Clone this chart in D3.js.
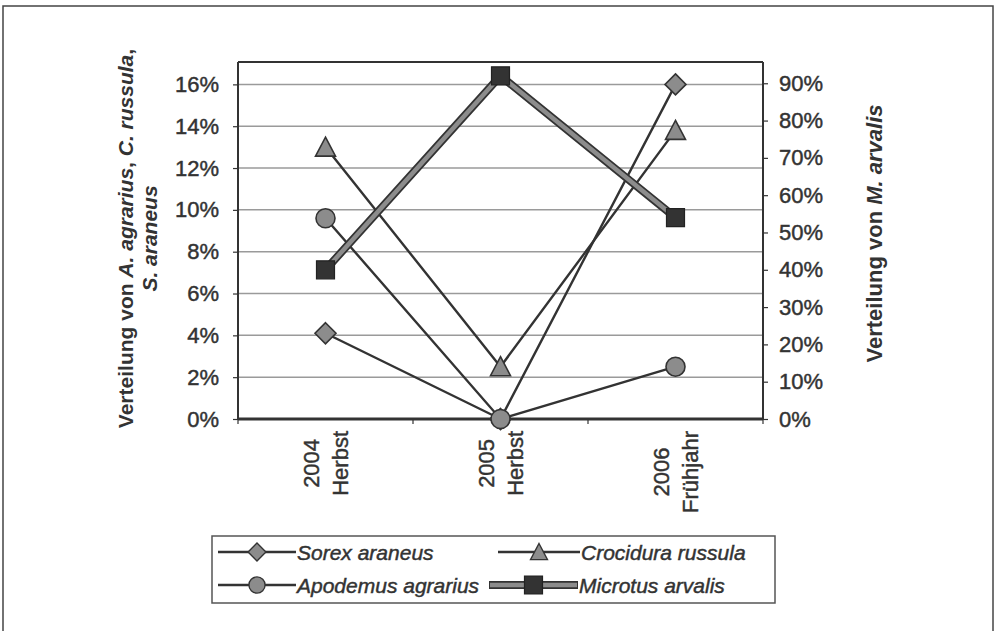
<!DOCTYPE html>
<html>
<head>
<meta charset="utf-8">
<script src="https://cdn.jsdelivr.net/npm/d3@7"></script>
<style>
  html, body { margin: 0; padding: 0; background: #fff; }
  svg { display: block; font-family: "Liberation Sans", Arial, sans-serif; }
  .heavy { stroke: #333; stroke-width: 0.45px; paint-order: stroke; }
</style>
</head>
<body>
<svg id="chart" width="996" height="631"></svg>
<script>
// Categories (two-line labels) and the four series
const categories = [["2004", "Herbst"], ["2005", "Herbst"], ["2006", "Frühjahr"]];
const sorexAraneus = [0.041, 0.0, 0.16];
const crociduraRussula = [0.13, 0.025, 0.138];
const apodemusAgrarius = [0.096, 0.0, 0.025];
const microtusArvalis = [0.40, 0.92, 0.54];   // secondary axis

const leftTicks = [0, 0.02, 0.04, 0.06, 0.08, 0.10, 0.12, 0.14, 0.16];
const rightTicks = [0, 0.1, 0.2, 0.3, 0.4, 0.5, 0.6, 0.7, 0.8, 0.9];
const leftMax = 0.1707;
const rightMax = 0.957;

const leftTitle = [["Verteilung von ", false], ["A. agrarius", true], [", ", false], ["C. russula", true], [",", false]];
const leftTitle2 = [["S. araneus", true]];
const rightTitle = [["Verteilung von ", false], ["M. arvalis", true]];

// Layout
const plot = { left: 238, right: 763, top: 62, bottom: 419 };
const ink = "#333";
const markerFill = "#8c8c8c";
const fontSize = 22;

const svg = d3.select("#chart");

// Outer frame
svg.append("rect")
  .attr("x", 3).attr("y", 6).attr("width", 990).attr("height", 640)
  .attr("fill", "none").attr("stroke", "#444").attr("stroke-width", 1.5);

const keys = categories.map(c => c.join(" "));
const x = d3.scaleBand().domain(keys).range([plot.left, plot.right]);
const yL = d3.scaleLinear().domain([0, leftMax]).range([plot.bottom, plot.top]);
const yR = d3.scaleLinear().domain([0, rightMax]).range([plot.bottom, plot.top]);
const cx = i => x(keys[i]) + x.bandwidth() / 2;

// Gridlines
svg.append("g").selectAll("line").data(leftTicks.filter(d => d > 0)).join("line")
  .attr("x1", plot.left).attr("x2", plot.right)
  .attr("y1", d => yL(d)).attr("y2", d => yL(d))
  .attr("stroke", "#9a9a9a").attr("stroke-width", 1.5);

// Plot frame top
svg.append("line")
  .attr("x1", plot.left).attr("x2", plot.right)
  .attr("y1", plot.top).attr("y2", plot.top)
  .attr("stroke", ink).attr("stroke-width", 2);

// Left axis
const gL = svg.append("g").attr("transform", `translate(${plot.left},0)`)
  .call(d3.axisLeft(yL).tickValues(leftTicks).tickFormat(d3.format(".0%")).tickSize(5).tickPadding(14));
// Right axis
const gR = svg.append("g").attr("transform", `translate(${plot.right},0)`)
  .call(d3.axisRight(yR).tickValues(rightTicks).tickFormat(d3.format(".0%")).tickSize(5).tickPadding(11));
[gL, gR].forEach(g => {
  g.select(".domain").attr("stroke", ink).attr("stroke-width", 2)
    .attr("d", `M0,${plot.top}V${plot.bottom}`);
  g.selectAll(".tick line").attr("stroke", ink).attr("stroke-width", 1.2);
  g.selectAll(".tick text").attr("fill", ink).attr("font-size", fontSize)
    .attr("class", "heavy")
    .attr("font-family", "'Liberation Sans', Arial, sans-serif");
});

// Category axis
const boundaries = [plot.left, ...keys.map(k => x(k) + x.bandwidth())];
svg.append("g").selectAll("line").data(boundaries).join("line")
  .attr("x1", d => d).attr("x2", d => d)
  .attr("y1", plot.bottom).attr("y2", plot.bottom + 5)
  .attr("stroke", ink).attr("stroke-width", 1.2);
svg.append("line")
  .attr("x1", plot.left).attr("x2", plot.right)
  .attr("y1", plot.bottom).attr("y2", plot.bottom)
  .attr("stroke", ink).attr("stroke-width", 3);

// Rotated two-line category labels, block anchored near the axis
categories.forEach((lines, i) => {
  const g = svg.append("g");
  const texts = lines.map(t => g.append("text")
    .attr("font-size", fontSize).attr("fill", ink).attr("class", "heavy")
    .attr("text-anchor", "middle")
    .text(t));
  const maxW = d3.max(texts, t => t.node().getComputedTextLength());
  const yc = plot.bottom + 12 + maxW / 2;
  texts.forEach((t, j) => {
    const lx = cx(i) + (j - (lines.length - 1) / 2) * 29 + 7.5;
    t.attr("transform", `translate(${lx},${yc}) rotate(-90)`);
  });
});

// Marker shapes
const markers = {
  diamond: "M0,-10.5L10.5,0L0,10.5L-10.5,0Z",
  triangle: "M0,-10L10,9L-10,9Z",
  circle: d3.symbol(d3.symbolCircle, Math.PI * 9.5 * 9.5)(),
  square: "M-9,-9H9V9H-9Z"
};

const thinSeries = [
  { name: "Sorex araneus", values: sorexAraneus, marker: "diamond" },
  { name: "Crocidura russula", values: crociduraRussula, marker: "triangle" },
  { name: "Apodemus agrarius", values: apodemusAgrarius, marker: "circle" }
];

const lineL = d3.line().x((d, i) => cx(i)).y(d => yL(d));
const lineR = d3.line().x((d, i) => cx(i)).y(d => yR(d));

thinSeries.forEach(s => {
  svg.append("path").attr("d", lineL(s.values))
    .attr("fill", "none").attr("stroke", ink).attr("stroke-width", 2.4);
});
thinSeries.forEach(s => {
  svg.append("g").selectAll("path").data(s.values).join("path")
    .attr("d", markers[s.marker])
    .attr("transform", (d, i) => `translate(${cx(i)},${yL(d)})`)
    .attr("fill", markerFill).attr("stroke", ink).attr("stroke-width", 1.6);
});

// Microtus arvalis: thick outlined line on the secondary axis
svg.append("path").attr("d", lineR(microtusArvalis))
  .attr("fill", "none").attr("stroke", ink).attr("stroke-width", 8).attr("stroke-linejoin", "miter");
svg.append("path").attr("d", lineR(microtusArvalis))
  .attr("fill", "none").attr("stroke", markerFill).attr("stroke-width", 4.5).attr("stroke-linejoin", "miter");
svg.append("g").selectAll("path").data(microtusArvalis).join("path")
  .attr("d", markers.square)
  .attr("transform", (d, i) => `translate(${cx(i)},${yR(d)})`)
  .attr("fill", "#333").attr("stroke", "#222").attr("stroke-width", 1.2);

// Axis titles
function richText(sel, parts) {
  parts.forEach(([t, it]) => sel.append("tspan").attr("font-style", it ? "italic" : "normal").text(t));
}
const midY = (plot.top + plot.bottom) / 2;
const t1 = svg.append("text").attr("transform", `translate(133,${midY - 2}) rotate(-90)`)
  .attr("text-anchor", "middle").attr("font-size", 21).attr("font-weight", "bold").attr("fill", ink);
richText(t1, leftTitle);
const t2 = svg.append("text").attr("transform", `translate(157,${midY - 2}) rotate(-90)`)
  .attr("text-anchor", "middle").attr("font-size", 21).attr("font-weight", "bold").attr("fill", ink);
richText(t2, leftTitle2);
const t3 = svg.append("text").attr("transform", `translate(882,${midY - 7}) rotate(-90)`)
  .attr("text-anchor", "middle").attr("font-size", 22).attr("font-weight", "bold").attr("fill", ink);
richText(t3, rightTitle);

// Legend
const legend = svg.append("g");
legend.append("rect").attr("x", 212).attr("y", 536).attr("width", 563).attr("height", 67)
  .attr("fill", "#fff").attr("stroke", "#555").attr("stroke-width", 1.5);

const legendItems = [
  { name: "Sorex araneus", marker: "diamond", col: 0, row: 0 },
  { name: "Crocidura russula", marker: "triangle", col: 1, row: 0 },
  { name: "Apodemus agrarius", marker: "circle", col: 0, row: 1 },
  { name: "Microtus arvalis", marker: "square", col: 1, row: 1 }
];
const colX = [[218, 296], [498, 580]];
const rowY = [552, 585];
legendItems.forEach(it => {
  const [x0, x1] = it.marker === "square" ? [489, 578] : colX[it.col];
  const yy = rowY[it.row];
  const mx = (x0 + x1) / 2;
  if (it.marker === "square") {
    legend.append("line").attr("x1", x0).attr("x2", x1).attr("y1", yy).attr("y2", yy)
      .attr("stroke", ink).attr("stroke-width", 8);
    legend.append("line").attr("x1", x0 + 1).attr("x2", x1 - 1).attr("y1", yy).attr("y2", yy)
      .attr("stroke", markerFill).attr("stroke-width", 4.5);
    legend.append("path").attr("d", markers.square).attr("transform", `translate(${mx},${yy})`)
      .attr("fill", "#333").attr("stroke", "#222").attr("stroke-width", 1.2);
  } else {
    legend.append("line").attr("x1", x0).attr("x2", x1).attr("y1", yy).attr("y2", yy)
      .attr("stroke", ink).attr("stroke-width", 2.4);
    legend.append("path").attr("d", markers[it.marker]).attr("transform", `translate(${mx},${yy}) scale(0.85)`)
      .attr("fill", markerFill).attr("stroke", ink).attr("stroke-width", 1.6);
  }
  legend.append("text").attr("x", x1 + 1).attr("y", yy + 7.5)
    .attr("font-size", 21).attr("font-style", "italic").attr("fill", ink).attr("class", "heavy")
    .text(it.name);
});
</script>
</body>
</html>
